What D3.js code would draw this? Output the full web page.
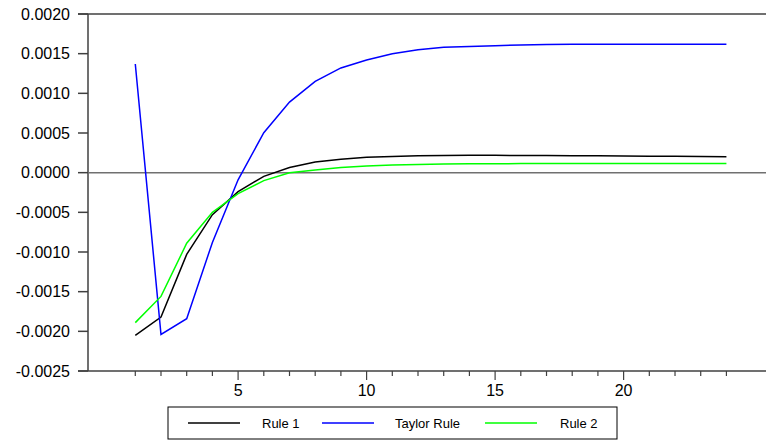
<!doctype html>
<html>
<head>
	<title> Impulse responses </title>
	<script src="https://d3js.org/d3.v7.min.js"></script>
</head>

<style>
	body { margin:0; background-color:white; }
	svg { display:block; }
	.ylab, .xlab { font-family:'Liberation Sans', Arial, sans-serif; font-size:16px; fill:#000; }
	.leg { font-family:'Liberation Sans', Arial, sans-serif; font-size:13px; fill:#000; }
</style>

<body>
<script>

	// periods 1..24
	var periods = [1,2,3,4,5,6,7,8,9,10,11,12,13,14,15,16,17,18,19,20,21,22,23,24]

	var rule1 = [-0.00205,-0.00182,-0.00103,-0.00053,-0.00024,-0.000046,0.000065,0.000135,0.00017,0.000193,
				 0.000205,0.000212,0.000216,0.000218,0.000218,0.000217,0.000216,0.000214,0.000212,0.00021,
				 0.000208,0.000206,0.000204,0.000202]

	var taylor = [0.00137,-0.00204,-0.00184,-0.00088,-0.00009,0.000504,0.00089,0.00115,0.00132,0.00142,
				  0.0015,0.00155,0.00158,0.00159,0.0016,0.00161,0.001615,0.001618,0.00162,0.00162,
				  0.00162,0.00162,0.00162,0.00162]

	var rule2 = [-0.00189,-0.00156,-0.00089,-0.0005,-0.000265,-0.0001,0.0,0.000035,0.000065,0.000085,
				 0.000097,0.000104,0.000108,0.000111,0.000113,0.000114,0.000115,0.000116,0.000116,0.000117,
				 0.000117,0.000117,0.000117,0.000117]

	var yTicks = [0.002,0.0015,0.001,0.0005,0,-0.0005,-0.001,-0.0015,-0.002,-0.0025]
	var xLabels = [5,10,15,20]

	var series = [{name:"Rule 1", vals:rule1, col:"#000000"},
				  {name:"Taylor Rule", vals:taylor, col:"#0000ff"},
				  {name:"Rule 2", vals:rule2, col:"#00ff00"}]

	var width = 766
	var height = 441

	var canvas = d3.select("body")
				.append("svg")
				.attr("width",width)
				.attr("height",height);

	var x = d3.scaleLinear().domain([-0.84,25.54]).range([88,766])
	var y = d3.scaleLinear().domain([-0.0025,0.002]).range([371,14])

	// frame: top line, left axis, bottom axis
	canvas.append("line")
		.attr("x1",78).attr("x2",width)
		.attr("y1",y(0.002)).attr("y2",y(0.002))
		.attr("stroke","#404040").attr("stroke-width",1.5);

	canvas.append("line")
		.attr("x1",88).attr("x2",88)
		.attr("y1",y(0.002)).attr("y2",y(-0.0025))
		.attr("stroke","#404040").attr("stroke-width",1.5);

	canvas.append("line")
		.attr("x1",78).attr("x2",width)
		.attr("y1",y(-0.0025)).attr("y2",y(-0.0025))
		.attr("stroke","#404040").attr("stroke-width",1.5);

	// zero line
	canvas.append("line")
		.attr("x1",88).attr("x2",width)
		.attr("y1",y(0)).attr("y2",y(0))
		.attr("stroke","#707070").attr("stroke-width",1.5);

	canvas.selectAll(".ytick")
		.data(yTicks)
		.enter()
			.append("line")
			.attr("x1",78).attr("x2",88)
			.attr("y1",function(d){ return y(d); })
			.attr("y2",function(d){ return y(d); })
			.attr("stroke","#404040").attr("stroke-width",1.5)
			.attr("class","ytick");

	canvas.selectAll(".ylab")
		.data(yTicks)
		.enter()
			.append("text")
			.attr("x",70)
			.attr("y",function(d){ return y(d); })
			.attr("dy","0.36em")
			.attr("text-anchor","end")
			.text(function(d){ return d3.format(".4f")(d).replace("−","-"); })
			.attr("class","ylab");

	canvas.selectAll(".xtick")
		.data(periods)
		.enter()
			.append("line")
			.attr("x1",function(d){ return x(d); })
			.attr("x2",function(d){ return x(d); })
			.attr("y1",y(-0.0025))
			.attr("y2",function(d){ return y(-0.0025) + (d%5==0 ? 9 : 5); })
			.attr("stroke","#404040").attr("stroke-width",1.2)
			.attr("class","xtick");

	canvas.selectAll(".xlab")
		.data(xLabels)
		.enter()
			.append("text")
			.attr("x",function(d){ return x(d); })
			.attr("y",396)
			.attr("text-anchor","middle")
			.text(function(d){ return d; })
			.attr("class","xlab");

	var line = d3.line()
		.x(function(d,i){ return x(periods[i]); })
		.y(function(d){ return y(d); });

	canvas.selectAll(".series")
		.data(series)
		.enter()
			.append("path")
			.attr("d",function(d){ return line(d.vals); })
			.attr("fill","none")
			.attr("stroke",function(d){ return d.col; })
			.attr("stroke-width",1.5)
			.attr("class","series");

	// legend
	var legX = [188,322,485]
	var legTextX = [262,395,560]

	canvas.append("rect")
		.attr("x",168).attr("y",407)
		.attr("width",449).attr("height",32)
		.attr("fill","white")
		.attr("stroke","#000").attr("stroke-width",1);

	canvas.selectAll(".legline")
		.data(series)
		.enter()
			.append("line")
			.attr("x1",function(d,i){ return legX[i]; })
			.attr("x2",function(d,i){ return legX[i]+52; })
			.attr("y1",423).attr("y2",423)
			.attr("stroke",function(d){ return d.col; })
			.attr("stroke-width",1.5)
			.attr("class","legline");

	canvas.selectAll(".leg")
		.data(series)
		.enter()
			.append("text")
			.attr("x",function(d,i){ return legTextX[i]; })
			.attr("y",428)
			.text(function(d){ return d.name; })
			.attr("class","leg");

</script>
</body>
</html>
